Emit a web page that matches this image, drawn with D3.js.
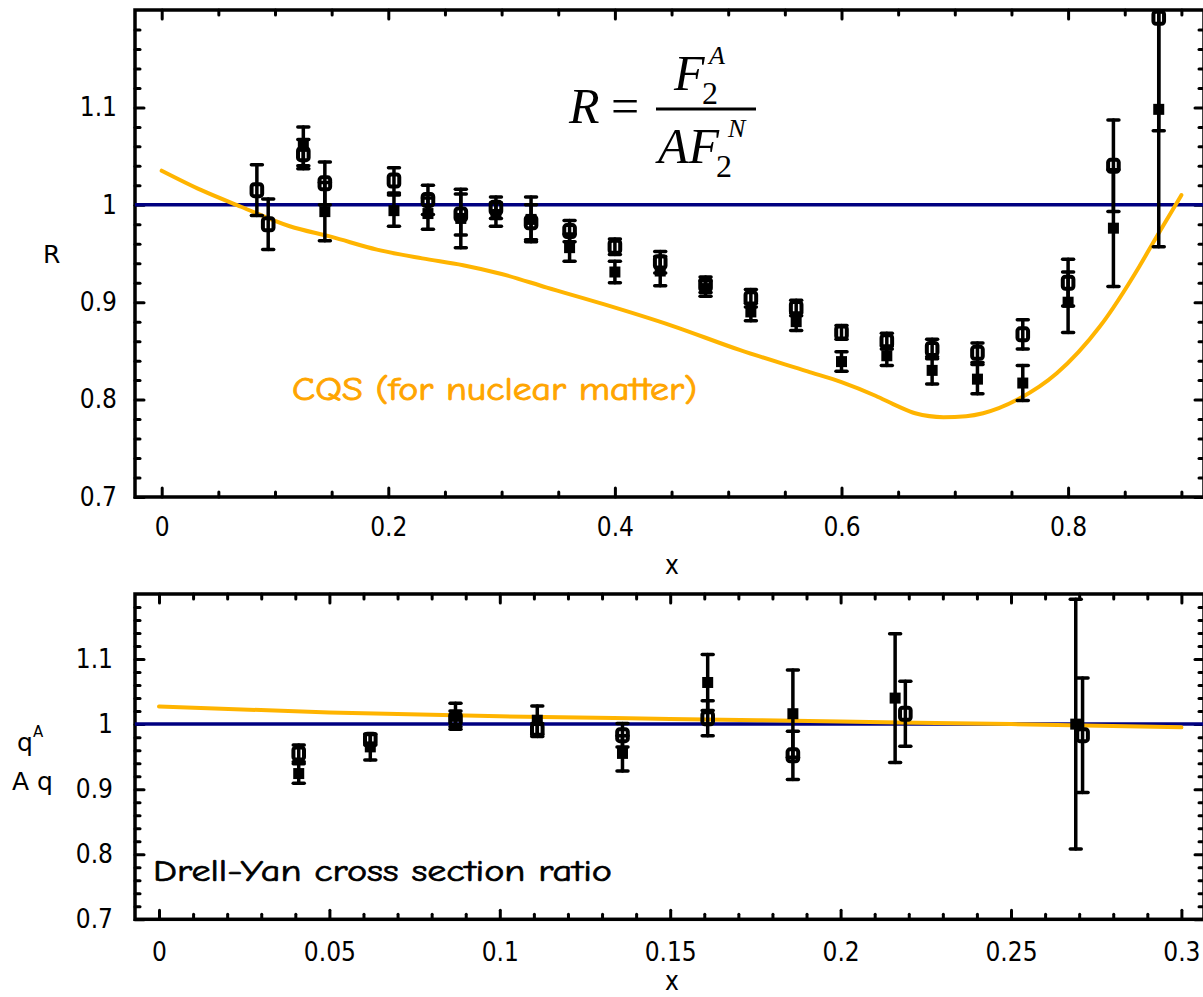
<!DOCTYPE html>
<html>
<head>
<meta charset="utf-8">
<script src="https://cdn.jsdelivr.net/npm/d3@7"></script>
<style>
  html, body { margin: 0; padding: 0; background: #fff; }
  svg { display: block; }
  .tick text { font-family: "DejaVu Sans Condensed", "DejaVu Sans", sans-serif; font-stretch: condensed; font-size: 26px; fill: #000; }
  .tick line { stroke: #000; stroke-width: 3; stroke-linecap: round; }
</style>
</head>
<body>
<script>
// ---------------- DATA ----------------
// Top panel: R = F2^A / (A F2^N)
const topOpenX   = [0.084, 0.094, 0.125, 0.144, 0.205, 0.235, 0.264, 0.295, 0.326, 0.36, 0.40, 0.44, 0.48, 0.52, 0.56, 0.60, 0.64, 0.68, 0.72, 0.76, 0.80, 0.84, 0.88];
const topOpenR   = [1.015, 0.980, 1.052, 1.022, 1.025, 1.005, 0.990, 0.997, 0.982, 0.973, 0.957, 0.941, 0.918, 0.904, 0.894, 0.869, 0.860, 0.852, 0.848, 0.867, 0.920, 1.040, 1.192];
const topOpenErr = [0.026, 0.026, 0.015, 0.022, 0.013, 0.015, 0.021, 0.011, 0.018, 0.011, 0.008, 0.011, 0.008, 0.009, 0.008, 0.007, 0.008, 0.010, 0.010, 0.015, 0.024, 0.047, 0.116];

const topFilledX   = [0.125, 0.144, 0.205, 0.235, 0.264, 0.295, 0.326, 0.36, 0.40, 0.44, 0.48, 0.52, 0.56, 0.60, 0.64, 0.68, 0.72, 0.76, 0.80, 0.84, 0.88];
const topFilledR   = [1.060, 0.993, 0.994, 0.991, 0.986, 0.990, 0.985, 0.956, 0.931, 0.932, 0.914, 0.890, 0.880, 0.839, 0.845, 0.830, 0.821, 0.817, 0.900, 0.976, 1.098];
const topFilledErr = [0.020, 0.030, 0.016, 0.016, 0.030, 0.012, 0.023, 0.014, 0.011, 0.015, 0.008, 0.009, 0.009, 0.010, 0.010, 0.014, 0.015, 0.018, 0.031, 0.060, 0.141];

// CQS curve (nuclear matter)
const cqsX = [0, 0.035, 0.07, 0.113, 0.15, 0.19, 0.23, 0.266, 0.30, 0.34, 0.39, 0.45, 0.51, 0.57, 0.60, 0.63, 0.65, 0.665, 0.69, 0.71, 0.725, 0.757, 0.79, 0.828, 0.863, 0.878, 0.90];
const cqsR = [1.035, 1.015, 0.998, 0.978, 0.967, 0.954, 0.945, 0.938, 0.929, 0.915, 0.898, 0.876, 0.851, 0.829, 0.818, 0.804, 0.793, 0.786, 0.782, 0.783, 0.786, 0.801, 0.827, 0.875, 0.937, 0.967, 1.010];

// Bottom panel: Drell-Yan ratio
const botOpenX   = [0.041, 0.062, 0.087, 0.111, 0.136, 0.161, 0.186, 0.219, 0.271];
const botOpenQ   = [0.955, 0.976, 1.008, 0.991, 0.983, 1.009, 0.952, 1.016, 0.983];
const botOpenErr = [0.013, 0.008, 0.012, 0.010, 0.018, 0.027, 0.037, 0.050, 0.088];

const botFilledX   = [0.041, 0.062, 0.087, 0.111, 0.136, 0.161, 0.186, 0.216, 0.269];
const botFilledQ   = [0.924, 0.965, 1.012, 1.006, 0.955, 1.064, 1.016, 1.040, 1.000];
const botFilledErr = [0.015, 0.020, 0.020, 0.022, 0.027, 0.043, 0.067, 0.099, 0.192];

const dyX = [0, 0.05, 0.1, 0.15, 0.2, 0.25, 0.3];
const dyQ = [1.027, 1.018, 1.012, 1.008, 1.004, 1.000, 0.995];

// Tick values / labels
const topXMajor = [0, 0.2, 0.4, 0.6, 0.8];
const topXMinor = [0.05, 0.1, 0.15, 0.25, 0.3, 0.35, 0.45, 0.5, 0.55, 0.65, 0.7, 0.75, 0.85, 0.9];
const yMajor = [0.7, 0.8, 0.9, 1.0, 1.1];
const yMinor = [0.72, 0.74, 0.76, 0.78, 0.82, 0.84, 0.86, 0.88, 0.92, 0.94, 0.96, 0.98, 1.02, 1.04, 1.06, 1.08, 1.12, 1.14, 1.16, 1.18];
const botXMajor = [0, 0.05, 0.1, 0.15, 0.2, 0.25, 0.3];
const botXMinor = [0.01, 0.02, 0.03, 0.04, 0.06, 0.07, 0.08, 0.09, 0.11, 0.12, 0.13, 0.14, 0.16, 0.17, 0.18, 0.19, 0.21, 0.22, 0.23, 0.24, 0.26, 0.27, 0.28, 0.29];

// ---------------- LAYOUT ----------------
const W = 1203, H = 997;
const frameL = 135, frameR = 1204;
const svg = d3.select("body").append("svg").attr("width", W).attr("height", H);

const ORANGE = "#FFB400";
const NAVY = "#000080";

function panel(cfg) {
  const { top, bottom, x, y, xMajor, xMinor, id } = cfg;
  const g = svg.append("g");
  g.append("clipPath").attr("id", id).append("rect")
    .attr("x", frameL).attr("y", top).attr("width", frameR - frameL).attr("height", bottom - top);

  const ticks = g.append("g");
  const fmt = d3.format("");
  ticks.append("g").attr("transform", `translate(0,${bottom})`)
    .call(d3.axisBottom(x).tickValues(xMinor).tickSizeInner(-5).tickSizeOuter(0).tickFormat(""));
  ticks.append("g").attr("transform", `translate(0,${bottom})`)
    .call(d3.axisBottom(x).tickValues(xMajor).tickSizeInner(-9).tickSizeOuter(0).tickPadding(cfg.xPad).tickFormat(fmt));
  ticks.append("g").attr("transform", `translate(0,${top})`)
    .call(d3.axisTop(x).tickValues(xMinor).tickSizeInner(-5).tickSizeOuter(0).tickFormat(""));
  ticks.append("g").attr("transform", `translate(0,${top})`)
    .call(d3.axisTop(x).tickValues(xMajor).tickSizeInner(-9).tickSizeOuter(0).tickFormat(""));
  ticks.append("g").attr("transform", `translate(${frameL},0)`)
    .call(d3.axisLeft(y).tickValues(yMinor).tickSizeInner(-5).tickSizeOuter(0).tickFormat(""));
  ticks.append("g").attr("transform", `translate(${frameL},0)`)
    .call(d3.axisLeft(y).tickValues(yMajor).tickSizeInner(-9).tickSizeOuter(0).tickPadding(cfg.yPad).tickFormat(fmt));
  ticks.append("g").attr("transform", `translate(${frameR},0)`)
    .call(d3.axisRight(y).tickValues(yMinor).tickSizeInner(-5).tickSizeOuter(0).tickFormat(""));
  ticks.append("g").attr("transform", `translate(${frameR},0)`)
    .call(d3.axisRight(y).tickValues(yMajor).tickSizeInner(-9).tickSizeOuter(0).tickFormat(""));
  ticks.selectAll(".domain").remove();

  g.append("rect").attr("x", frameL).attr("y", top).attr("width", frameR - frameL).attr("height", bottom - top)
    .attr("fill", "none").attr("stroke", "#000").attr("stroke-width", 3.5);

  return g.append("g").attr("clip-path", `url(#${id})`);
}

function drawLine(plot, x, y, xs, ys, color, width, curve) {
  const data = xs.map((d, i) => [d, ys[i]]);
  plot.append("path").datum(data)
    .attr("d", d3.line().x(d => x(d[0])).y(d => y(d[1])).curve(curve || d3.curveLinear))
    .attr("fill", "none").attr("stroke", color).attr("stroke-width", width)
    .attr("stroke-linecap", "round").attr("stroke-linejoin", "round");
}

function drawErr(plot, x, y, xs, ys, es) {
  const data = xs.map((d, i) => ({ x: d, v: ys[i], e: es[i] }));
  const g = plot.append("g").attr("stroke", "#000").attr("stroke-width", 3.5).attr("stroke-linecap", "round");
  g.selectAll(".bar").data(data).join("line")
    .attr("x1", d => x(d.x)).attr("x2", d => x(d.x))
    .attr("y1", d => y(d.v - d.e)).attr("y2", d => y(d.v + d.e));
  g.selectAll(".capT").data(data).join("line")
    .attr("x1", d => x(d.x) - 5.5).attr("x2", d => x(d.x) + 5.5)
    .attr("y1", d => y(d.v + d.e)).attr("y2", d => y(d.v + d.e));
  g.selectAll(".capB").data(data).join("line")
    .attr("x1", d => x(d.x) - 5.5).attr("x2", d => x(d.x) + 5.5)
    .attr("y1", d => y(d.v - d.e)).attr("y2", d => y(d.v - d.e));
}

function drawOpen(plot, x, y, xs, ys) {
  plot.append("g").selectAll("rect").data(xs.map((d, i) => [d, ys[i]])).join("rect")
    .attr("x", d => x(d[0]) - 5.3).attr("y", d => y(d[1]) - 6)
    .attr("width", 10.6).attr("height", 12).attr("rx", 2.5)
    .attr("fill", "none").attr("stroke", "#000").attr("stroke-width", 4);
}
function drawFilled(plot, x, y, xs, ys) {
  plot.append("g").selectAll("rect").data(xs.map((d, i) => [d, ys[i]])).join("rect")
    .attr("x", d => x(d[0]) - 5.5).attr("y", d => y(d[1]) - 5.5)
    .attr("width", 11).attr("height", 11).attr("fill", "#000");
}

// ---------------- TOP PANEL ----------------
const xTop = d3.scaleLinear().domain([0, 0.2]).range([161.7, 388.3]);
const yTop = d3.scaleLinear().domain([0.7, 1.2]).range([497, 10]);
const pTop = panel({ id: "clipTop", top: 10, bottom: 497, x: xTop, y: yTop, xMajor: topXMajor, xMinor: topXMinor, xPad: 21, yPad: 18 });

pTop.append("line").attr("x1", frameL).attr("x2", frameR).attr("y1", yTop(1)).attr("y2", yTop(1))
  .attr("stroke", NAVY).attr("stroke-width", 3.5);
drawLine(pTop, xTop, yTop, cqsX, cqsR, ORANGE, 4, d3.curveMonotoneX);
drawErr(pTop, xTop, yTop, topOpenX, topOpenR, topOpenErr);
drawErr(pTop, xTop, yTop, topFilledX, topFilledR, topFilledErr);
drawFilled(pTop, xTop, yTop, topFilledX, topFilledR);
drawOpen(pTop, xTop, yTop, topOpenX, topOpenR);

// ---------------- BOTTOM PANEL ----------------
const xBot = d3.scaleLinear().domain([0, 0.05]).range([159, 329.4]);
const yBot = d3.scaleLinear().domain([0.7, 1.2]).range([919.3, 594]);
const pBot = panel({ id: "clipBot", top: 594, bottom: 919.3, x: xBot, y: yBot, xMajor: botXMajor, xMinor: botXMinor, xPad: 23, yPad: 22 });

pBot.append("line").attr("x1", frameL).attr("x2", frameR).attr("y1", yBot(1)).attr("y2", yBot(1))
  .attr("stroke", NAVY).attr("stroke-width", 3.5);
drawLine(pBot, xBot, yBot, dyX, dyQ, ORANGE, 4, d3.curveMonotoneX);
drawErr(pBot, xBot, yBot, botOpenX, botOpenQ, botOpenErr);
drawErr(pBot, xBot, yBot, botFilledX, botFilledQ, botFilledErr);
drawFilled(pBot, xBot, yBot, botFilledX, botFilledQ);
drawOpen(pBot, xBot, yBot, botOpenX, botOpenQ);

// ---------------- TEXT ----------------
const sans = "'DejaVu Sans', sans-serif";
const cond = "'DejaVu Sans Condensed', 'DejaVu Sans', sans-serif";
const comic = "'Comic Sans MS', 'Comic Neue', 'Open Sans', sans-serif";
const serif = "'Liberation Serif', 'Times New Roman', serif";

svg.append("text").attr("x", 43).attr("y", 263).attr("font-family", sans).attr("font-size", 25).text("R");
svg.append("text").attr("x", 672).attr("y", 574).attr("text-anchor", "middle").attr("font-family", cond).attr("font-stretch", "condensed").attr("font-size", 26).text("x");
svg.append("text").attr("x", 672).attr("y", 990).attr("text-anchor", "middle").attr("font-family", cond).attr("font-stretch", "condensed").attr("font-size", 26).text("x");

// q^A / A q
const ql = svg.append("text").attr("font-family", sans).attr("font-size", 25);
ql.append("tspan").attr("x", 17).attr("y", 751).text("q");
ql.append("tspan").attr("x", 33).attr("y", 737).attr("font-size", 15).text("A");
svg.append("text").attr("x", 12).attr("y", 790).attr("font-family", sans).attr("font-size", 25).text("A q");

svg.append("text").attr("x", 292).attr("y", 400).attr("font-family", comic).attr("font-size", 33)
  .attr("fill", "#FFA500").attr("stroke", "#FFA500").attr("stroke-width", 0.9)
  .attr("textLength", 405).attr("lengthAdjust", "spacingAndGlyphs")
  .text("CQS (for nuclear matter)");
svg.append("text").attr("x", 153).attr("y", 881).attr("font-family", comic).attr("font-size", 31)
  .attr("fill", "#000").attr("stroke", "#000").attr("stroke-width", 0.7)
  .attr("textLength", 459).attr("lengthAdjust", "spacingAndGlyphs")
  .text("Drell-Yan cross section ratio");

// Formula R = F2^A / (A F2^N)
const fg = svg.append("g").attr("font-family", serif).attr("fill", "#000");
fg.append("text").attr("x", 569).attr("y", 123).attr("font-size", 50).attr("font-style", "italic").text("R");
fg.append("text").attr("x", 611).attr("y", 123).attr("font-size", 50).text("=");
fg.append("line").attr("x1", 656).attr("x2", 756).attr("y1", 109).attr("y2", 109).attr("stroke", "#000").attr("stroke-width", 2.8);
const num = fg.append("text").attr("font-size", 50);
num.append("tspan").attr("x", 674).attr("y", 90).attr("font-style", "italic").text("F");
num.append("tspan").attr("x", 702).attr("y", 104).attr("font-size", 32).text("2");
num.append("tspan").attr("x", 709).attr("y", 64).attr("font-size", 26).attr("font-style", "italic").text("A");
const den = fg.append("text").attr("font-size", 50);
den.append("tspan").attr("x", 658).attr("y", 163).attr("font-style", "italic").text("AF");
den.append("tspan").attr("x", 716).attr("y", 177).attr("font-size", 32).text("2");
den.append("tspan").attr("x", 728).attr("y", 137).attr("font-size", 26).attr("font-style", "italic").text("N");
</script>
</body>
</html>
